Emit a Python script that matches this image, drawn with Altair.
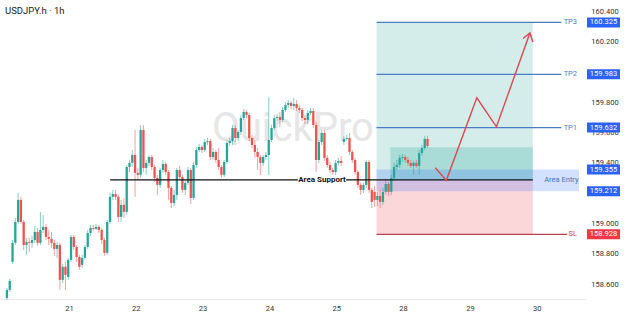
import altair as alt
import pandas as pd

W, H = 586, 299
FONT = "Roboto"
TITLE = "USDJPY.h · 1h"
WATERMARK = "QuickPro"
DAY_LABELS = ["21", "22", "23", "24", "25", "28", "29", "30"]
# 160.000 and 159.200 are fully hidden behind the TP2 / entry price boxes in the reference
Y_TICKS = [158.6, 158.8, 159.0, 159.4, 159.6, 159.8, 160.2, 160.4]

# hourly candles (prices)
opens = [
    158.509, 158.562, 158.747, 158.872, 159.010, 159.155, 159.010, 158.858, 158.878, 158.872,
    158.891, 158.944, 158.872, 158.957, 158.977, 158.911, 158.898, 158.872, 158.832, 158.858,
    158.628, 158.714, 158.648, 158.760, 158.911, 158.845, 158.779, 158.727, 158.773, 158.845,
    158.937, 158.970, 158.964, 158.977, 158.957, 158.891, 158.806, 159.010, 159.175, 159.194,
    159.175, 159.043, 159.122, 159.076, 159.372, 159.399, 159.451, 159.333, 159.320, 159.616,
    159.366, 159.399, 159.438, 159.372, 159.300, 159.254, 159.352, 159.392, 159.339, 159.234,
    159.135, 159.188, 159.352, 159.306, 159.221, 159.267, 159.352, 159.168, 159.385, 159.484,
    159.504, 159.484, 159.537, 159.543, 159.438, 159.471, 159.418, 159.372, 159.320, 159.405,
    159.530, 159.543, 159.629, 159.563, 159.603, 159.695, 159.735, 159.715, 159.563, 159.517,
    159.471, 159.438, 159.399, 159.438, 159.451, 159.550, 159.629, 159.695, 159.702, 159.682,
    159.748, 159.781, 159.794, 159.774, 159.787, 159.761, 159.748, 159.695, 159.682, 159.728,
    159.741, 159.649, 159.418, 159.537, 159.596, 159.432, 159.385, 159.352, 159.339, 159.399,
    159.412, 159.537, 159.557, 159.563, 159.471, 159.418, 159.339, 159.254, 159.221, 159.254,
    159.405, 159.221, 159.208, 159.155, 159.181, 159.142, 159.208, 159.260, 159.208, 159.300,
    159.372, 159.385, 159.432, 159.438, 159.418, 159.399, 159.379, 159.399, 159.379, 159.464,
    159.497, 159.557,
]
closes = [
    158.562, 158.621, 158.872, 159.010, 159.155, 159.010, 158.858, 158.878, 158.872, 158.891,
    158.944, 158.872, 158.957, 158.977, 158.911, 158.898, 158.872, 158.832, 158.858, 158.628,
    158.714, 158.661, 158.760, 158.911, 158.845, 158.779, 158.714, 158.773, 158.845, 158.937,
    158.970, 158.964, 158.977, 158.957, 158.891, 158.806, 159.010, 159.175, 159.194, 159.175,
    159.043, 159.122, 159.076, 159.372, 159.399, 159.451, 159.333, 159.320, 159.616, 159.366,
    159.399, 159.438, 159.372, 159.300, 159.254, 159.352, 159.392, 159.339, 159.234, 159.135,
    159.188, 159.352, 159.306, 159.221, 159.267, 159.352, 159.168, 159.385, 159.484, 159.504,
    159.484, 159.537, 159.543, 159.438, 159.471, 159.418, 159.372, 159.320, 159.405, 159.530,
    159.543, 159.629, 159.563, 159.603, 159.695, 159.735, 159.715, 159.563, 159.517, 159.471,
    159.438, 159.399, 159.438, 159.451, 159.550, 159.629, 159.695, 159.702, 159.682, 159.748,
    159.781, 159.794, 159.774, 159.787, 159.761, 159.748, 159.695, 159.682, 159.728, 159.741,
    159.649, 159.418, 159.537, 159.596, 159.432, 159.385, 159.352, 159.339, 159.399, 159.412,
    159.399, 159.557, 159.563, 159.471, 159.418, 159.339, 159.254, 159.221, 159.254, 159.405,
    159.221, 159.142, 159.155, 159.181, 159.142, 159.208, 159.260, 159.208, 159.300, 159.372,
    159.385, 159.432, 159.438, 159.418, 159.399, 159.379, 159.399, 159.379, 159.464, 159.497,
    159.557, 159.511,
]
highs = [
    158.575, 158.634, 158.891, 159.036, 159.201, 159.175, 159.023, 158.905, 158.905, 158.918,
    158.984, 158.970, 159.076, 159.056, 158.997, 158.957, 158.944, 158.891, 158.878, 158.872,
    158.733, 158.747, 158.773, 158.924, 158.924, 158.858, 158.793, 158.793, 158.858, 158.957,
    158.990, 158.990, 158.997, 158.990, 158.970, 158.905, 159.023, 159.201, 159.221, 159.221,
    159.188, 159.155, 159.168, 159.385, 159.418, 159.484, 159.616, 159.366, 159.649, 159.649,
    159.418, 159.451, 159.451, 159.385, 159.320, 159.366, 159.418, 159.405, 159.352, 159.247,
    159.221, 159.366, 159.379, 159.320, 159.287, 159.372, 159.366, 159.405, 159.504, 159.524,
    159.517, 159.557, 159.563, 159.557, 159.497, 159.484, 159.497, 159.385, 159.418, 159.550,
    159.563, 159.649, 159.649, 159.616, 159.715, 159.754, 159.748, 159.728, 159.583, 159.550,
    159.497, 159.451, 159.451, 159.471, 159.833, 159.649, 159.715, 159.721, 159.735, 159.768,
    159.800, 159.814, 159.807, 159.827, 159.814, 159.781, 159.761, 159.715, 159.748, 159.761,
    159.761, 159.669, 159.550, 159.616, 159.616, 159.451, 159.405, 159.366, 159.418, 159.432,
    159.445, 159.577, 159.583, 159.596, 159.484, 159.432, 159.352, 159.267, 159.267, 159.418,
    159.418, 159.234, 159.247, 159.208, 159.221, 159.234, 159.287, 159.273, 159.320, 159.399,
    159.418, 159.451, 159.458, 159.451, 159.438, 159.418, 159.412, 159.418, 159.484, 159.517,
    159.577, 159.577,
]
lows = [
    158.496, 158.549, 158.733, 158.858, 158.997, 158.997, 158.825, 158.793, 158.812, 158.839,
    158.872, 158.852, 158.858, 158.937, 158.891, 158.858, 158.839, 158.786, 158.773, 158.562,
    158.608, 158.562, 158.628, 158.747, 158.825, 158.747, 158.694, 158.707, 158.760, 158.832,
    158.918, 158.951, 158.957, 158.937, 158.865, 158.786, 158.793, 158.997, 159.155, 159.155,
    159.010, 159.010, 159.036, 159.056, 159.339, 159.372, 159.175, 159.287, 159.300, 159.339,
    159.320, 159.379, 159.352, 159.273, 159.188, 159.234, 159.333, 159.320, 159.155, 159.102,
    159.115, 159.155, 159.287, 159.201, 159.188, 159.254, 159.128, 159.155, 159.366, 159.471,
    159.464, 159.471, 159.517, 159.418, 159.418, 159.399, 159.352, 159.300, 159.306, 159.392,
    159.511, 159.517, 159.537, 159.543, 159.583, 159.682, 159.695, 159.543, 159.497, 159.432,
    159.352, 159.320, 159.379, 159.418, 159.320, 159.537, 159.616, 159.675, 159.636, 159.669,
    159.735, 159.761, 159.754, 159.748, 159.741, 159.728, 159.675, 159.655, 159.655, 159.715,
    159.629, 159.339, 159.399, 159.517, 159.412, 159.366, 159.333, 159.320, 159.320, 159.385,
    159.379, 159.517, 159.543, 159.451, 159.399, 159.320, 159.234, 159.188, 159.201, 159.234,
    159.201, 159.102, 159.109, 159.115, 159.102, 159.122, 159.188, 159.181, 159.188, 159.280,
    159.352, 159.366, 159.405, 159.399, 159.379, 159.366, 159.320, 159.366, 159.320, 159.445,
    159.484, 159.497,
]

# time axis in trading-day units (21 -> 1, 22 -> 2, ... 30 -> 8), one bar per hour
FIRST_T = 0.0735
BAR_T = 1 / 24
XMIN, XMAX = 0.0441, 8.6618
YMIN, YMAX = 158.502, 160.4725

# trade plan levels
tp_names = ["TP3", "TP2", "TP1"]
tp_prices = [160.325, 159.983, 159.632]
sl_price = 158.928
entry_hi, entry_lo = 159.355, 159.212
zone_mid = 159.285
box_top = 159.502
support_price = 159.287
zone_t0, zone_t1 = 5.603, 7.941
box_t0 = 5.809
band_t1 = 8.632
tp_end, sl_end = 8.368, 8.456
label_t = 8.603
entry_label_t = 8.368
support_t0, support_t1 = 1.618, 7.941
support_gap = (4.426, 5.147)
support_label_t = 4.787

# projected path
arrow_t = [6.481, 6.647, 7.103, 7.397, 7.897]
arrow_p = [159.367, 159.284, 159.828, 159.637, 160.255]
head_t = [7.794, 7.897, 7.941]
head_p = [160.219, 160.255, 160.196]

UP, DOWN = "#26a69a", "#ef5350"
TP_COL, SL_COL = "#4a7dc4", "#b5444f"

xscale = alt.Scale(domain=[XMIN, XMAX], nice=False, zero=False)
yscale = alt.Scale(domain=[YMIN, YMAX], nice=False, zero=False)
label_expr = "[" + ",".join(f"'{d}'" for d in DAY_LABELS) + "][datum.value - 1]"
xaxis = alt.Axis(values=list(range(1, 9)), labelExpr=label_expr, title=None, grid=False,
                 ticks=False, tickSize=0, domainColor="#e6e8ee", labelFontSize=7.5,
                 labelColor="#333333", labelPadding=5, labelFont=FONT, labelFlush=False)
yaxis = alt.Axis(orient="right", values=Y_TICKS, format=".3f", title=None, grid=False,
                 ticks=False, tickSize=0, domain=False, labelAlign="center",
                 labelBaseline="middle", labelPadding=18.5, labelFontSize=7.5,
                 labelColor="#333333", labelFont=FONT)


def X(f="t"):
    return alt.X(f"{f}:Q", scale=xscale, axis=xaxis)


def Y(f="p"):
    return alt.Y(f"{f}:Q", scale=yscale, axis=yaxis)


n = len(closes)
candles = pd.DataFrame({
    "t": [FIRST_T + i * BAR_T for i in range(n)],
    "o": opens, "c": closes, "h": highs, "l": lows,
})
candles["col"] = [UP if c >= o else DOWN for o, c in zip(opens, closes)]

zones = pd.DataFrame([
    dict(t=zone_t0, t2=zone_t1, p=zone_mid, p2=tp_prices[0], col=UP, op=0.2),
    dict(t=zone_t0, t2=zone_t1, p=sl_price, p2=zone_mid, col="#f23645", op=0.2),
    dict(t=box_t0, t2=zone_t1, p=zone_mid, p2=box_top, col=UP, op=0.25),
    dict(t=zone_t0, t2=band_t1, p=entry_lo, p2=entry_hi, col="#2962ff", op=0.2),
])

lines = pd.DataFrame(
    [dict(t=zone_t0, t2=tp_end, p=v, col=TP_COL, w=1.2) for v in tp_prices]
    + [dict(t=zone_t0, t2=sl_end, p=sl_price, col=SL_COL, w=1.2),
       dict(t=support_t0, t2=support_gap[0], p=support_price, col="#111111", w=1.3),
       dict(t=support_gap[1], t2=support_t1, p=support_price, col="#111111", w=1.3)]
)

side_labels = pd.DataFrame(
    [dict(t=label_t, p=v, txt=nm, col=TP_COL) for nm, v in zip(tp_names, tp_prices)]
    + [dict(t=label_t, p=sl_price, txt="SL", col="#d04550")]
)

arrow = pd.DataFrame(
    [dict(t=a, p=b, seg="path", k=i) for i, (a, b) in enumerate(zip(arrow_t, arrow_p))]
    + [dict(t=a, p=b, seg="head", k=i) for i, (a, b) in enumerate(zip(head_t, head_p))]
)

half = 5 * (YMAX - YMIN) / H
box_rows = [(v, "#2962ff") for v in tp_prices] + [(entry_hi, "#2962ff"), (entry_lo, "#2962ff"),
                                                  (sl_price, "#f23645")]
boxes = pd.DataFrame([dict(p=v, lo=v - half, hi=v + half, txt=f"{v:.3f}", col=c)
                      for v, c in box_rows])

base_c = alt.Chart(candles)
zone_layer = alt.Chart(zones).mark_rect().encode(
    x=X(), x2="t2:Q", y=Y(), y2="p2:Q",
    color=alt.Color("col:N", scale=None), opacity=alt.Opacity("op:Q", scale=None))

watermark = alt.Chart(pd.DataFrame({"txt": [WATERMARK]})).mark_text(
    font=FONT, fontSize=40, color="#e0e0e0", align="center", baseline="middle", opacity=0.8
).encode(x=alt.value(293), y=alt.value(129), text="txt:N")

wicks = base_c.mark_rule(strokeWidth=1, opacity=0.55).encode(
    x=X(), y=Y("l"), y2="h:Q", color=alt.Color("col:N", scale=None))
bodies = base_c.mark_bar(size=2.3).encode(
    x=X(), y=Y("o"), y2="c:Q", color=alt.Color("col:N", scale=None))

line_layer = alt.Chart(lines).mark_rule().encode(
    x=X(), x2="t2:Q", y=Y(), color=alt.Color("col:N", scale=None),
    strokeWidth=alt.StrokeWidth("w:Q", scale=None))

side_text = alt.Chart(side_labels).mark_text(
    font=FONT, fontSize=7.5, align="right", baseline="middle").encode(
    x=X(), y=Y(), text="txt:N", color=alt.Color("col:N", scale=None))

entry_text = alt.Chart(pd.DataFrame({"t": [entry_label_t], "p": [zone_mid],
                                     "txt": ["Area Entry"]})).mark_text(
    font=FONT, fontSize=7.5, align="center", baseline="middle", color="#4a72b8").encode(
    x=X(), y=Y(), text="txt:N")

support_text = alt.Chart(pd.DataFrame({"t": [support_label_t], "p": [support_price],
                                       "txt": ["Area Support"]})).mark_text(
    font=FONT, fontSize=8, fontWeight="bold", align="center", baseline="middle",
    color="#111111").encode(x=X(), y=Y(), text="txt:N")

arrow_layer = alt.Chart(arrow).mark_line(color="#e0464f", strokeWidth=1.4).encode(
    x=X(), y=Y(), detail="seg:N", order="k:Q")

box_rect = alt.Chart(boxes).mark_rect().encode(
    x=alt.value(W + 1), x2=alt.value(W + 34), y=Y("lo"), y2="hi:Q",
    color=alt.Color("col:N", scale=None))
box_text = alt.Chart(boxes).mark_text(
    font=FONT, fontSize=7.5, color="white", align="center", baseline="middle").encode(
    x=alt.value(W + 17.5), y=Y(), text="txt:N")

title = alt.Chart(pd.DataFrame({"txt": [TITLE]})).mark_text(
    font=FONT, fontSize=9.5, color="#222222", align="left", baseline="middle").encode(
    x=alt.value(5), y=alt.value(10.5), text="txt:N")

chart = alt.layer(
    zone_layer, watermark, wicks, bodies, line_layer, side_text, entry_text,
    support_text, arrow_layer, box_rect, box_text, title
).properties(
    width=W, height=H,
    padding={"left": 0, "top": 0, "right": 38, "bottom": 17},
    autosize=alt.AutoSizeParams(type="none"),
    background="white",
).configure_view(stroke=None)

chart.save("out.html", embed_options={"renderer": "svg", "actions": False})
